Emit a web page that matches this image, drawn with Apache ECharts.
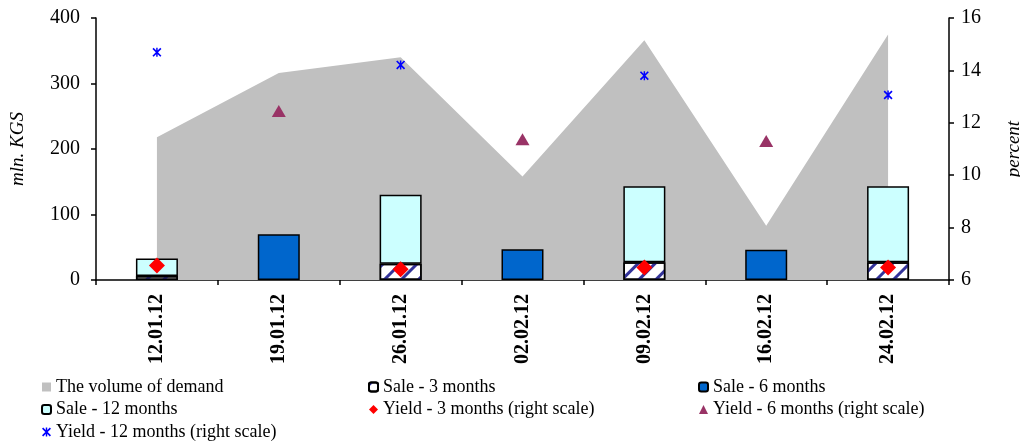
<!DOCTYPE html>
<html><head><meta charset="utf-8">
<script src="https://cdn.jsdelivr.net/npm/echarts@6/dist/echarts.min.js"></script>
<style>html,body{margin:0;padding:0;background:#fff;font-family:"Liberation Serif",serif}#c{width:1020px;height:444px}</style>
</head><body><div id="c"></div>
<script>
var categories = ['12.01.12','19.01.12','26.01.12','02.02.12','09.02.12','16.02.12','24.02.12'];
var demand = [218, 316, 340, 158, 366, 83, 375];
var sale3 = [6, null, 25, null, 27, null, 27];
var sale6 = [null, 70, null, 47, null, 46, null];
var sale12 = [27, null, 105, null, 116, null, 116];
var yield3 = [6.55, null, 6.41, null, 6.48, null, 6.48];
var yield6 = [null, 12.45, null, 11.37, null, 11.31, null];
var yield12 = [14.69, null, 14.21, null, 13.80, null, 13.06];
var leftTicks = {min: 0, max: 400, interval: 100};
var rightTicks = {min: 6, max: 16, interval: 2};

var FONT = 'Liberation Serif';
var starPath = 'path://M4.2 0H5.8V10H4.2Z M0 1.3L1.3 0L10 8.7L8.7 10Z M8.7 0L10 1.3L1.3 10L0 8.7Z';

var chart = echarts.init(document.getElementById('c'), null, {renderer: 'canvas'});
var legendBase = {
  orient: 'vertical', itemWidth: 9, itemHeight: 9, itemGap: 4.5, padding: 0,
  height: 70,
  textStyle: {fontFamily: FONT, fontSize: 18, color: '#000', lineHeight: 18},
  selectedMode: false
};
var option = {
  animation: false,
  textStyle: {fontFamily: FONT},
  grid: {left: 96, right: 71, top: 18, bottom: 164, outerBoundsMode: 'none', containLabel: false},
  legend: [
    Object.assign({}, legendBase, {left: 41, top: 378, data: [
      {name: 'The volume of demand', icon: 'rect'},
      {name: 'Sale - 12 months'},
      {name: 'Yield - 12 months (right scale)'}]}),
    Object.assign({}, legendBase, {left: 368, top: 378, data: [
      {name: 'Sale - 3 months'},
      {name: 'Yield - 3 months (right scale)'}]}),
    Object.assign({}, legendBase, {left: 698, top: 378, data: [
      {name: 'Sale - 6 months'},
      {name: 'Yield - 6 months (right scale)'}]})
  ],
  xAxis: {
    type: 'category', data: categories, boundaryGap: true,
    axisLine: {lineStyle: {color: '#000', width: 1.5}},
    axisTick: {show: true, length: 5, lineStyle: {color: '#000', width: 1.5}},
    axisLabel: {rotate: 90, fontFamily: FONT, fontSize: 20, fontWeight: 'bold', color: '#000', margin: 14}
  },
  yAxis: [
    {type: 'value', min: leftTicks.min, max: leftTicks.max, interval: leftTicks.interval,
     name: 'mln. KGS', nameLocation: 'middle', nameGap: 69, nameRotate: 90,
     nameTextStyle: {fontFamily: FONT, fontSize: 19, fontStyle: 'italic', color: '#000'},
     axisLine: {show: true, lineStyle: {color: '#000', width: 1.5}},
     axisTick: {show: true, length: 5, lineStyle: {color: '#000', width: 1.5}},
     axisLabel: {fontFamily: FONT, fontSize: 20, color: '#000', margin: 16},
     splitLine: {show: false}},
    {type: 'value', min: rightTicks.min, max: rightTicks.max, interval: rightTicks.interval, position: 'right',
     name: 'percent', nameLocation: 'middle', nameGap: 55, nameRotate: 90,
     nameTextStyle: {fontFamily: FONT, fontSize: 19, fontStyle: 'italic', color: '#000'},
     axisLine: {show: true, lineStyle: {color: '#000', width: 1.5}},
     axisTick: {show: true, length: 5, lineStyle: {color: '#000', width: 1.5}},
     axisLabel: {fontFamily: FONT, fontSize: 20, color: '#000', margin: 12},
     splitLine: {show: false}}
  ],
  series: [
    {name: 'The volume of demand', type: 'line', data: demand, symbol: 'none',
     lineStyle: {width: 0, color: '#c0c0c0'}, itemStyle: {color: '#c0c0c0'},
     areaStyle: {color: '#c0c0c0', opacity: 1}, z: 1},
    {name: 'Sale - 3 months', type: 'bar', stack: 'sale', barWidth: 42, data: sale3,
     itemStyle: {color: '#ffffff', borderColor: '#000', borderWidth: 1.5,
       decal: {symbol: 'rect', symbolSize: 1, dashArrayX: [1, 0], dashArrayY: [3, 9],
               rotation: -Math.PI / 4, color: '#33339a'}}, z: 2},
    {name: 'Sale - 6 months', type: 'bar', stack: 'sale', barWidth: 42, data: sale6,
     itemStyle: {color: '#0066cc', borderColor: '#000', borderWidth: 1.5}, z: 2},
    {name: 'Sale - 12 months', type: 'bar', stack: 'sale', barWidth: 42, data: sale12,
     itemStyle: {color: '#ccffff', borderColor: '#000', borderWidth: 1.5}, z: 2},
    {name: 'Yield - 3 months (right scale)', type: 'scatter', yAxisIndex: 1, data: yield3,
     symbol: 'diamond', symbolSize: 16, itemStyle: {color: '#ff0000', opacity: 1}, z: 5},
    {name: 'Yield - 6 months (right scale)', type: 'scatter', yAxisIndex: 1, data: yield6,
     symbol: 'triangle', symbolSize: [14, 12], itemStyle: {color: '#993366', opacity: 1}, z: 5},
    {name: 'Yield - 12 months (right scale)', type: 'scatter', yAxisIndex: 1, data: yield12,
     symbol: starPath, symbolSize: 9, itemStyle: {color: '#0000ff', opacity: 1}, z: 5}
  ]
};
chart.setOption(option);
if (document.fonts && document.fonts.load) {
  Promise.all([
    document.fonts.load('20px "Liberation Serif"'),
    document.fonts.load('bold 20px "Liberation Serif"'),
    document.fonts.load('italic 19px "Liberation Serif"')
  ]).then(function () { chart.setOption(option, true); });
}
</script></body></html>
